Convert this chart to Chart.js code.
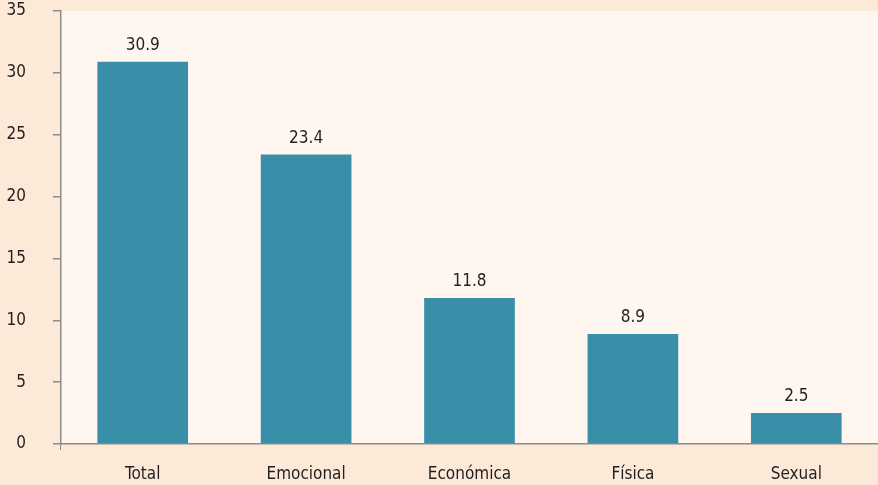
<!DOCTYPE html>
<html lang="es">
  <head>
    <meta charset="UTF-8">
    <title>Violencia</title>
    <style>
      html, body { margin: 0; padding: 0; background: #fde9d8; }
      #chart-container { width: 878px; height: 485px; }
    </style>
  </head>
  <body>
    <div id="chart-container">
      <canvas id="chart"></canvas>
    </div>
    <script src="https://cdn.jsdelivr.net/npm/chart.js@4/dist/chart.umd.min.js"></script>
    <script>
      var categories = ['Total', 'Emocional', 'Económica', 'Física', 'Sexual'];
      var values = [30.9, 23.4, 11.8, 8.9, 2.5];
      var yTicks = [0, 5, 10, 15, 20, 25, 30, 35];

      var fontFamily = "'Liberation Sans Narrow', 'DejaVu Sans Condensed', sans-serif";
      var axisGray = '#8c8c8c';

      // plot area background
      var plotBg = {
        id: 'plotBg',
        beforeDraw: function (chart) {
          var a = chart.chartArea, ctx = chart.ctx;
          ctx.save();
          ctx.fillStyle = '#fff6f0';
          ctx.fillRect(a.left, a.top, a.right - a.left, a.bottom - a.top);
          ctx.restore();
        }
      };

      // value labels above bars
      var barLabels = {
        id: 'barLabels',
        afterDatasetsDraw: function (chart) {
          var ctx = chart.ctx;
          var meta = chart.getDatasetMeta(0);
          ctx.save();
          ctx.fillStyle = '#231f20';
          ctx.font = '17px ' + fontFamily;
          ctx.textAlign = 'center';
          ctx.textBaseline = 'alphabetic';
          meta.data.forEach(function (bar, i) {
            ctx.fillText(values[i].toFixed(1), bar.x, bar.y - 12);
          });
          ctx.restore();
        }
      };

      new Chart(document.getElementById('chart'), {
        type: 'bar',
        data: {
          labels: categories,
          datasets: [{
            data: values,
            backgroundColor: '#3a8fa8',
            categoryPercentage: 0.555,
            barPercentage: 1
          }]
        },
        options: {
          responsive: true,
          maintainAspectRatio: false,
          animation: false,
          layout: {
            padding: { top: 11, right: 0, left: 0, bottom: 0 }
          },
          scales: {
            x: {
              afterFit: function (axis) {
                axis.height = 41;
              },
              border: { display: true, color: axisGray, width: 1.5 },
              grid: {
                drawOnChartArea: false,
                drawTicks: true,
                tickLength: 6,
                color: function (c) { return c.index === 0 ? axisGray : 'rgba(0,0,0,0)'; }
              },
              ticks: {
                color: '#231f20',
                font: { family: fontFamily, size: 17 },
                padding: 14
              }
            },
            y: {
              min: 0,
              max: 35,
              afterBuildTicks: function (axis) {
                axis.ticks = yTicks.map(function (v) { return { value: v }; });
              },
              afterFit: function (axis) {
                axis.width = 61;
                axis.paddingTop = 0;
                axis.paddingBottom = 0;
              },
              border: { display: true, color: axisGray, width: 1.5 },
              grid: {
                drawOnChartArea: false,
                drawTicks: true,
                tickLength: 8,
                color: axisGray,
                lineWidth: 1.5
              },
              ticks: {
                color: '#231f20',
                font: { family: fontFamily, size: 17 },
                padding: 27
              }
            }
          },
          plugins: {
            legend: { display: false },
            tooltip: { enabled: false }
          }
        },
        plugins: [plotBg, barLabels]
      });
    </script>
  </body>
</html>
